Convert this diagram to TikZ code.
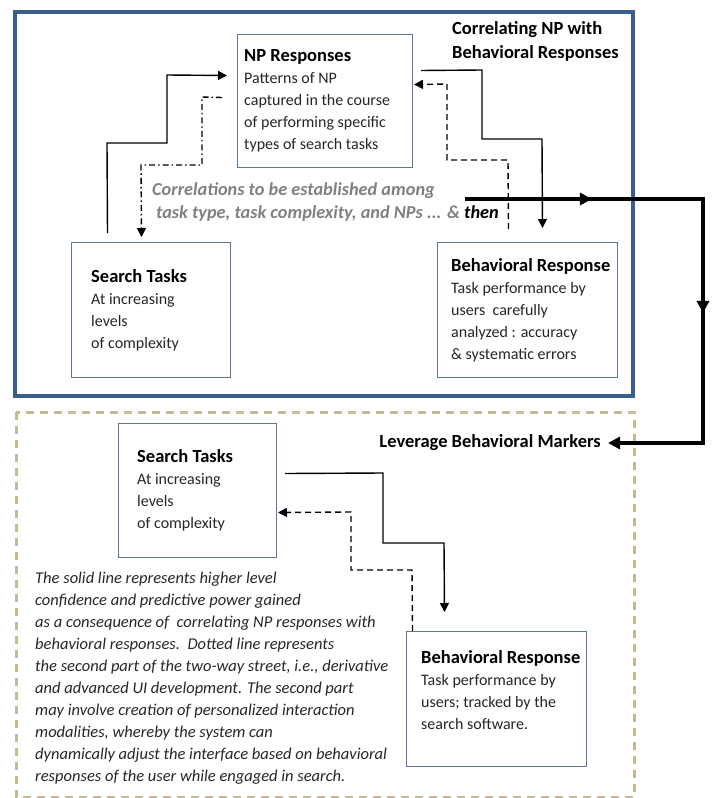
\documentclass[tikz,border=0pt]{standalone}
\usepackage{fontspec}
\setmainfont{Carlito}
\usetikzlibrary{arrows.meta,decorations.markings}
\definecolor{frameblue}{RGB}{58,95,143}
\definecolor{boxedge}{RGB}{95,118,150}
\definecolor{tanline}{RGB}{196,186,146}
\definecolor{corrgray}{RGB}{128,128,128}
\definecolor{bodytext}{RGB}{38,38,38}
\newcommand{\btitle}[1]{{\fontsize{18.5}{22}\selectfont\bfseries\color{black}#1}}
\begin{document}
\begin{tikzpicture}[x=1pt,y=-1pt,
  every node/.style={font=\fontsize{16}{22}\selectfont},
  box/.style={draw=boxedge, line width=1pt, fill=white, inner sep=0pt, anchor=north west},
  btext/.style={align=left, inner sep=0pt, anchor=west, text=bodytext},
  conn/.style={line width=1.4pt, line join=miter},
  tipend/.style={-{Triangle[length=9pt,width=9pt]}},
  dashdotline/.style={dash pattern=on 6pt off 3pt on 1.5pt off 3pt},
  dashline/.style={dash pattern=on 6pt off 4pt},
  heading/.style={font=\fontsize{18.5}{24}\selectfont\bfseries, align=left, inner sep=0pt, text=black}
]
\useasboundingbox (0,0) rectangle (714,798);

% frames
\draw[frameblue, line width=4pt] (15,12) rectangle (633,396);
\draw[tanline, line width=3pt, dash pattern=on 8pt off 6pt] (16,412) rectangle (634,797);

% top boxes
\node[box, minimum width=175pt, minimum height=133pt] (np) at (237,34) {};
\node[btext] (npT) at ([xshift=7pt]np.west) {\btitle{NP Responses}\\Patterns of NP\\captured in the course\\of performing specific\\types of search tasks};

\node[box, minimum width=159pt, minimum height=135pt] (st1) at (71,242) {};
\node[btext] (st1T) at ([xshift=20pt]st1.west) {\btitle{Search Tasks}\\At increasing\\levels\\of complexity};

\node[box, minimum width=180pt, minimum height=135pt] (br1) at (437,242) {};
\node[btext] (br1T) at ([xshift=14pt]br1.west) {\btitle{Behavioral Response}\\Task performance by\\users\ \ carefully\\analyzed : accuracy\\\& systematic errors};

% bottom boxes
\node[box, minimum width=158pt, minimum height=134pt] (st2) at (118,423) {};
\node[btext] (st2T) at ([xshift=19pt]st2.west) {\btitle{Search Tasks}\\At increasing\\levels\\of complexity};

\node[box, minimum width=180pt, minimum height=135pt] (br2) at (406,631) {};
\node[btext] (br2T) at ([xshift=15pt,yshift=9pt]br2.west) {\btitle{Behavioral Response}\\Task performance by\\users; tracked by the\\search software.};

% headings and labels
\node[heading, anchor=west] (corrTitle) at (452,41.5) {Correlating NP with\\Behavioral Responses};
\node[heading, anchor=east] (lev) at (601,443) {Leverage Behavioral Markers};
\node[align=left, inner sep=0pt, anchor=west, text=corrgray,
      font=\fontsize{18.3}{23}\selectfont\bfseries\itshape] (corr) at (152,202.5)
  {Correlations to be established among\\\hspace*{4pt}task type, task complexity, and NPs ... \& \textcolor{black}{then}};
\node[align=left, inner sep=0pt, anchor=west, text=bodytext,
      font=\fontsize{16.5}{22}\selectfont\itshape] (expl) at (35,678.5)
  {The solid line represents higher level\\
   confidence and predictive power gained\\
   as a consequence of\ \ correlating NP responses with\\
   behavioral responses.\ \ Dotted line represents\\
   the second part of the two-way street, i.e., derivative\\
   and advanced UI development. The second part\\
   may involve creation of personalized interaction\\
   modalities, whereby the system can\\
   dynamically adjust the interface based on behavioral\\
   responses of the user while engaged in search.};

% top connectors
\draw[conn, tipend] ([xshift=-43.5pt,yshift=9pt]st1.north) -- (107,143) -- (167,143) -- (167,75)
  -- ([xshift=-10pt,yshift=25.5pt]np.west);
\draw[conn, tipend, dashdotline] ([xshift=-15pt,yshift=3.5pt]np.west) -- (202,97) -- (202,165) -- (141,165)
  -- ([xshift=-9.5pt,yshift=5pt]st1.north);
\draw[conn, tipend] ([xshift=8pt,yshift=30.5pt]np.east) -- (482,70) -- (482,139) -- (542,139)
  -- ([xshift=15pt,yshift=14pt]br1.north);
\draw[conn, tipend, dashline] ([xshift=-19pt,yshift=13pt]br1.north) -- (508,160) -- (447,160) -- (447,84)
  -- ([xshift=1pt,yshift=16.5pt]np.east);

% thick link
\coordinate (thk) at (465,199);
\draw[line width=3.5pt, line join=miter, -{Triangle[length=12pt,width=12pt]},
  postaction={decorate, decoration={markings,
    mark=at position 0.22 with {\arrow{Triangle[length=12pt,width=12pt]}},
    mark=at position 0.61 with {\arrow{Triangle[length=12pt,width=12pt]}}}}]
  (thk) -- (703,199) -- (703,443) -- ([xshift=7pt]lev.east);

% bottom connectors
\draw[conn, tipend] ([xshift=8pt,yshift=17pt]st2.east) -- (383,473) -- (383,543) -- (444,543)
  -- ([xshift=-52pt,yshift=19pt]br2.north);
\draw[conn, tipend, dashline] ([xshift=-84pt]br2.north) -- (412,570) -- (351,570) -- (351,512)
  -- ([xshift=1pt,yshift=-22pt]st2.east);
\end{tikzpicture}
\end{document}
